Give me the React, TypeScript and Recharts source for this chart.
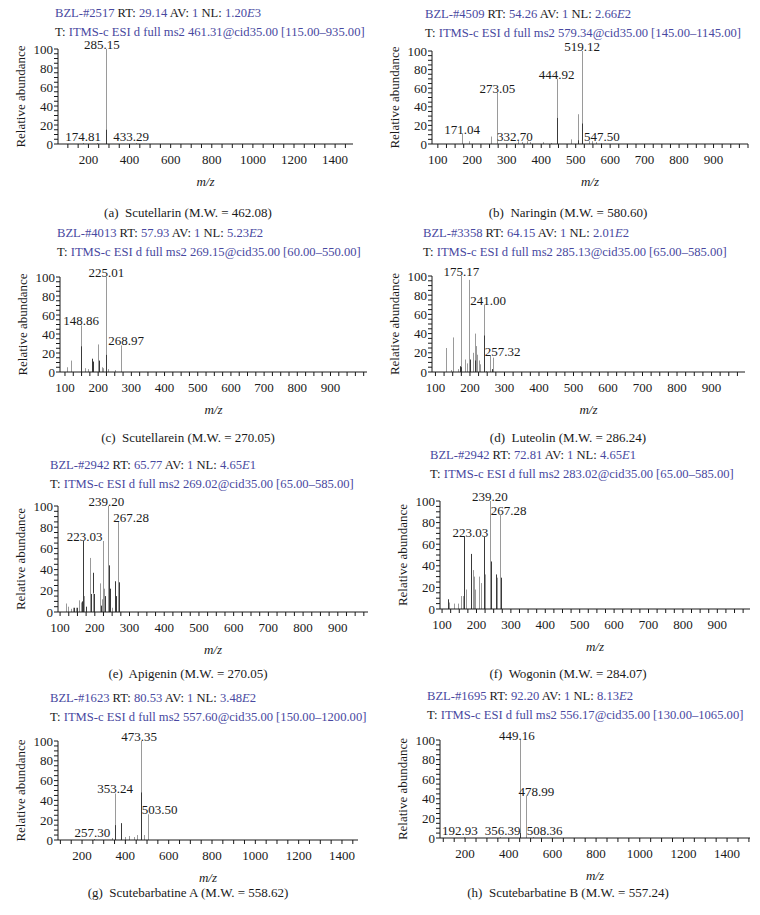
import React from 'react';
import { BarChart, Bar, XAxis, YAxis, LabelList } from 'recharts';

// each peak: [m/z, light trace %, dark trace %]
type Peak = [number, number, number];
type Tag = [number, string];

const peaksA: Peak[] = [[174.81, 1, 0], [240, 1, 0], [285.15, 100, 15], [433.29, 1, 0]];
const tagsA: Tag[] = [[174.81, '174.81'], [285.15, '285.15'], [433.29, '433.29']];

const peaksB: Peak[] = [
  [171.04, 11, 0], [190, 3, 0], [256, 8, 0], [273.05, 55, 0], [332.7, 3, 0], [345, 2, 0],
  [358, 3, 0], [368, 2, 0], [405, 2, 0], [430, 1, 0], [444.92, 70, 28], [487, 5, 0],
  [506, 32, 4], [519.12, 100, 22], [538, 3, 0], [547.5, 3, 0], [560, 2, 0], [575, 1, 0],
];
const tagsB: Tag[] = [[171.04, '171.04'], [273.05, '273.05'], [332.7, '332.70'], [444.92, '444.92'], [519.12, '519.12'], [547.5, '547.50']];

const peaksC: Peak[] = [
  [106, 5, 0], [118, 12, 0], [148.86, 49, 27], [161, 4, 0], [169, 3, 0], [181, 0, 14], [184, 0, 11],
  [199, 29, 0], [202, 0, 12], [211, 5, 0], [216, 4, 0], [225.01, 100, 18], [231, 3, 0], [251, 2, 0], [268.97, 28, 0],
];
const tagsC: Tag[] = [[148.86, '148.86'], [225.01, '225.01'], [268.97, '268.97']];

const peaksD: Peak[] = [
  [132, 25, 0], [144, 2, 0], [151, 36, 0], [165, 3, 0], [170, 0, 6], [175.17, 100, 5], [185, 13, 0],
  [190.6, 9, 0], [198.4, 96, 0], [200.3, 0, 13], [210, 20, 0], [213.8, 40, 12], [217.7, 27, 0],
  [221.5, 18, 0], [225.4, 12, 0], [229.3, 8, 0], [241, 70, 38], [247.6, 1, 0], [257.32, 17, 0], [264, 0, 3], [267, 15, 0],
];
const tagsD: Tag[] = [[175.17, '175.17'], [241, '241.00'], [257.32, '257.32']];

const peaksE: Peak[] = [
  [118, 8, 0], [124, 5, 0], [132, 3, 0], [138, 4, 0], [140, 0, 4], [146, 4, 0], [150, 0, 4], [155, 11, 0],
  [160, 9, 0], [163, 0, 10], [165, 0, 67], [170, 15, 0], [175, 0, 5], [186, 51, 0], [188, 0, 17], [194, 0, 37],
  [196, 18, 0], [198, 0, 17], [215, 27, 0], [219, 0, 6], [221, 12, 0], [223, 67, 0], [228, 22, 0], [230, 0, 15],
  [239.2, 100, 0], [241, 0, 44], [244, 0, 22], [250, 4, 0], [258, 0, 29], [262, 0, 15], [267.28, 85, 0], [270, 0, 28],
];
const tagsE: Tag[] = [[165, '223.03'], [239.2, '239.20'], [267.28, '267.28']];

const peaksF: Peak[] = [
  [116, 0, 9], [121, 6, 0], [136, 5, 0], [145, 5, 0], [155, 12, 0], [160, 12, 0], [165, 0, 67], [170, 18, 0],
  [184, 0, 51], [189, 36, 0], [192, 30, 0], [197, 18, 0], [208, 30, 0], [213, 24, 0], [223, 0, 67], [226, 32, 0],
  [239.2, 100, 0], [241, 0, 44], [256.5, 0, 32], [259, 29, 0], [267.28, 87, 0], [270, 0, 29],
];
const tagsF: Tag[] = [[165, '223.03'], [239.2, '239.20'], [267.28, '267.28']];

const peaksG: Peak[] = [
  [257.3, 1, 0], [338, 2, 0], [353.24, 47, 15], [381, 0, 17], [399, 3, 0], [415, 4, 0], [438, 3, 0],
  [455, 5, 0], [473.35, 100, 48], [488, 5, 0], [503.5, 26, 0],
];
const tagsG: Tag[] = [[257.3, '257.30'], [353.24, '353.24'], [473.35, '473.35'], [503.5, '503.50']];

const peaksH: Peak[] = [[192.93, 1, 0], [356.39, 1, 0], [449.16, 100, 5], [478.99, 43, 0], [508.36, 1, 0]];
const tagsH: Tag[] = [[192.93, '192.93'], [356.39, '356.39'], [449.16, '449.16'], [478.99, '478.99'], [508.36, '508.36']];

const scanIds = ['2517', '4509', '4013', '3358', '2942', '2942', '1623', '1695'];
const retentionTimes = ['29.14', '54.26', '57.93', '64.15', '65.77', '72.81', '80.53', '92.20'];
const nlMantissa = ['1.20', '2.66', '5.23', '2.01', '4.65', '4.65', '3.48', '8.13'];
const nlExponent = ['3', '2', '2', '2', '1', '1', '2', '2'];
const precursors = ['461.31', '579.34', '269.15', '285.13', '269.02', '283.02', '557.60', '556.17'];
const scanRanges = ['115.00–935.00', '145.00–1145.00', '60.00–550.00', '65.00–585.00', '65.00–585.00', '65.00–585.00', '150.00–1200.00', '130.00–1065.00'];
const compounds = ['Scutellarin', 'Naringin', 'Scutellarein', 'Luteolin', 'Apigenin', 'Wogonin', 'Scutebarbatine A', 'Scutebarbatine B'];
const molWeights = ['462.08', '580.60', '270.05', '286.24', '270.05', '284.07', '558.62', '557.24'];
const letters = ['a', 'b', 'c', 'd', 'e', 'f', 'g', 'h'];

const wideTicks = [200, 400, 600, 800, 1000, 1200, 1400];
const narrowTicks = [100, 200, 300, 400, 500, 600, 700, 800, 900];
const abundanceTicks = [0, 20, 40, 60, 80, 100];

const PEAKS = [peaksA, peaksB, peaksC, peaksD, peaksE, peaksF, peaksG, peaksH];
const TAGS = [tagsA, tagsB, tagsC, tagsD, tagsE, tagsF, tagsG, tagsH];

const FONT = '"Liberation Serif", "DejaVu Serif", serif';
const BLUE = '#4848a0';
const LIGHT = '#9a9a9a';
const DARK = '#3a3a3a';
const INK = '#1a1a1a';

// plot box (page px) and axis setup for each panel
const LAYOUT = [
  { x0: 58, x1: 353, top: 49, base: 144, domain: [52, 1487], labels: wideTicks, minor: 50, hx: 55, hy: 12.5, capX: 188, capY: 212, nudge: { '285.15': -4, '433.29': -5 } },
  { x0: 432, x1: 748, top: 51, base: 144, domain: [83, 1000], labels: narrowTicks, minor: 25, hx: 425, hy: 13.5, capX: 568, capY: 212, nudge: { '547.50': 10, '332.70': -3 } },
  { x0: 60, x1: 367, top: 277, base: 372, domain: [85, 1010], labels: narrowTicks, minor: 25, hx: 57, hy: 233, capX: 188, capY: 437, nudge: { '268.97': 5 } },
  { x0: 432, x1: 745, top: 276, base: 372, domain: [90, 997], labels: narrowTicks, minor: 25, hx: 423, hy: 233, capX: 568, capY: 437, nudge: { '241.00': 4, '257.32': 13 } },
  { x0: 58, x1: 368, top: 506, base: 612, domain: [94, 987], labels: narrowTicks, minor: 25, hx: 50, hy: 465, capX: 188, capY: 673, nudge: { '223.03': 2, '239.20': -2, '267.28': 13 } },
  { x0: 440, x1: 750, top: 501, base: 609, domain: [94, 995], labels: narrowTicks, minor: 25, hx: 430, hy: 455, capX: 568, capY: 673, nudge: { '223.03': 6, '267.28': 9 } },
  { x0: 58, x1: 358, top: 741, base: 840, domain: [89, 1474], labels: wideTicks, minor: 50, hx: 50, hy: 698, capX: 188, capY: 892, nudge: { '257.30': -2, '473.35': -2, '503.50': 12 } },
  { x0: 440, x1: 750, top: 740, base: 838, domain: [85, 1505], labels: wideTicks, minor: 50, hx: 427, hy: 696, capX: 568, capY: 892, nudge: { '192.93': -4, '356.39': 3, '449.16': -3, '478.99': 10, '508.36': 12 } },
];

const PAD_L = 55;
const PAD_T = 15;
const PAD_R = 10;
const AXIS_H = 50;

const yMinor: number[] = [];
for (let v = 0; v <= 100; v += 5) yMinor.push(v);

function Stick(p: any) {
  const { x, y, width, height, payload } = p;
  if (!payload || !(height > 0)) return null;
  const cx = Math.round(x + (width || 0) / 2) + 0.5;
  const base = y + height;
  const perUnit = height / payload.top;
  return (
    <g>
      {payload.light > 0 && (
        <line x1={cx} x2={cx} y1={base} y2={base - payload.light * perUnit} stroke={LIGHT} strokeWidth={1} />
      )}
      {payload.dark > 0 && (
        <line x1={cx} x2={cx} y1={base} y2={base - payload.dark * perUnit} stroke={DARK} strokeWidth={1} />
      )}
    </g>
  );
}

function Spectrum({ i }: { i: number }) {
  const L = LAYOUT[i];
  const tagMap = new Map(TAGS[i]);
  const rows = PEAKS[i].map(([mz, light, dark]) => ({
    mz,
    light,
    dark,
    top: Math.max(light, dark),
    tag: tagMap.get(mz),
  }));
  const width = L.x1 - L.x0 + PAD_L + PAD_R;
  const height = L.base - L.top + PAD_T + AXIS_H;
  const xTicks: number[] = [];
  for (let v = Math.ceil(L.domain[0] / L.minor) * L.minor; v <= L.domain[1]; v += L.minor) xTicks.push(v);
  const nudge: Record<string, number> = L.nudge;

  const renderTag = (p: any) => {
    const v = p.value;
    if (v === undefined || v === null || v === '') return null;
    const vb = p.viewBox || p;
    const cx = vb.x + vb.width / 2 + (nudge[v] ?? 0);
    // keep labels of tiny peaks clear of the axis line
    const ty = Math.min(vb.y, vb.y + vb.height - 3);
    return (
      <text x={cx} y={ty} textAnchor="middle" fontSize={13} fontFamily={FONT} fill={INK}>
        {v}
      </text>
    );
  };

  return (
    <div style={{ position: 'absolute', left: L.x0 - PAD_L, top: L.top - PAD_T }}>
      <BarChart width={width} height={height} data={rows} margin={{ top: PAD_T, right: PAD_R, bottom: 0, left: 0 }}>
        <XAxis
          dataKey="mz"
          type="number"
          domain={L.domain}
          allowDataOverflow
          ticks={xTicks}
          interval={0}
          height={AXIS_H}
          tickSize={4}
          tickMargin={2}
          stroke={INK}
          tick={(p: any) =>
            L.labels.includes(p.payload.value) ? (
              <text x={p.x} y={p.y} dy={14} textAnchor="middle" fontSize={13} fontFamily={FONT} fill={INK}>
                {p.payload.value}
              </text>
            ) : (
              <g />
            )
          }
          label={(p: any) => {
            const vb = p.viewBox;
            return (
              <text x={vb.x + vb.width / 2} y={vb.y + 42} textAnchor="middle" fontSize={13} fontStyle="italic" fontFamily={FONT} fill={INK}>
                m/z
              </text>
            );
          }}
        />
        <YAxis
          type="number"
          domain={[0, 100]}
          allowDataOverflow
          ticks={yMinor}
          interval={0}
          width={PAD_L}
          tickSize={4}
          tickMargin={1}
          stroke={INK}
          tick={(p: any) =>
            abundanceTicks.includes(p.payload.value) ? (
              <text x={p.x} y={p.y} dy={4.5} textAnchor="end" fontSize={13} fontFamily={FONT} fill={INK}>
                {p.payload.value}
              </text>
            ) : (
              <g />
            )
          }
          label={(p: any) => {
            const vb = p.viewBox;
            const lx = vb.x + 17;
            const ly = vb.y + vb.height / 2;
            return (
              <text x={lx} y={ly} transform={`rotate(-90 ${lx} ${ly})`} textAnchor="middle" dominantBaseline="central" fontSize={13} fontFamily={FONT} fill={INK}>
                Relative abundance
              </text>
            );
          }}
        />
        <Bar dataKey="top" barSize={1} isAnimationActive={false} shape={(p: any) => <Stick {...p} />}>
          <LabelList dataKey="tag" content={renderTag} />
        </Bar>
      </BarChart>
    </div>
  );
}

function Header({ i }: { i: number }) {
  const L = LAYOUT[i];
  const blue = { color: BLUE };
  const line = { position: 'absolute' as const, left: 0, height: 12, lineHeight: '12px', whiteSpace: 'nowrap' as const };
  return (
    <div style={{ position: 'absolute', left: L.hx, top: L.hy - 6, fontSize: 12.6, fontFamily: FONT, color: INK }}>
      <div style={{ ...line, top: 0 }}>
        <span style={blue}>BZL-#{scanIds[i]}</span> RT: <span style={blue}>{retentionTimes[i]}</span> AV: <span style={blue}>1</span> NL:{' '}
        <span style={blue}>
          {nlMantissa[i]}
          <i>E</i>
          {nlExponent[i]}
        </span>
      </div>
      <div style={{ ...line, top: 19 }}>
        T: <span style={blue}>ITMS-c ESI d full ms2 {precursors[i]}@cid35.00 [{scanRanges[i]}]</span>
      </div>
    </div>
  );
}

function Caption({ i }: { i: number }) {
  const L = LAYOUT[i];
  return (
    <div style={{ position: 'absolute', left: L.capX, top: L.capY - 9.5, transform: 'translateX(-50%)', fontSize: 13, lineHeight: '19px', fontFamily: FONT, color: INK, whiteSpace: 'pre' }}>
      {`(${letters[i]})  ${compounds[i]} (M.W. = ${molWeights[i]})`}
    </div>
  );
}

export default function App() {
  return (
    <div style={{ position: 'absolute', left: 0, top: 0, width: 760, height: 915, background: '#fff', overflow: 'hidden' }}>
      {LAYOUT.map((_, i) => (
        <React.Fragment key={i}>
          <Header i={i} />
          <Spectrum i={i} />
          <Caption i={i} />
        </React.Fragment>
      ))}
    </div>
  );
}
